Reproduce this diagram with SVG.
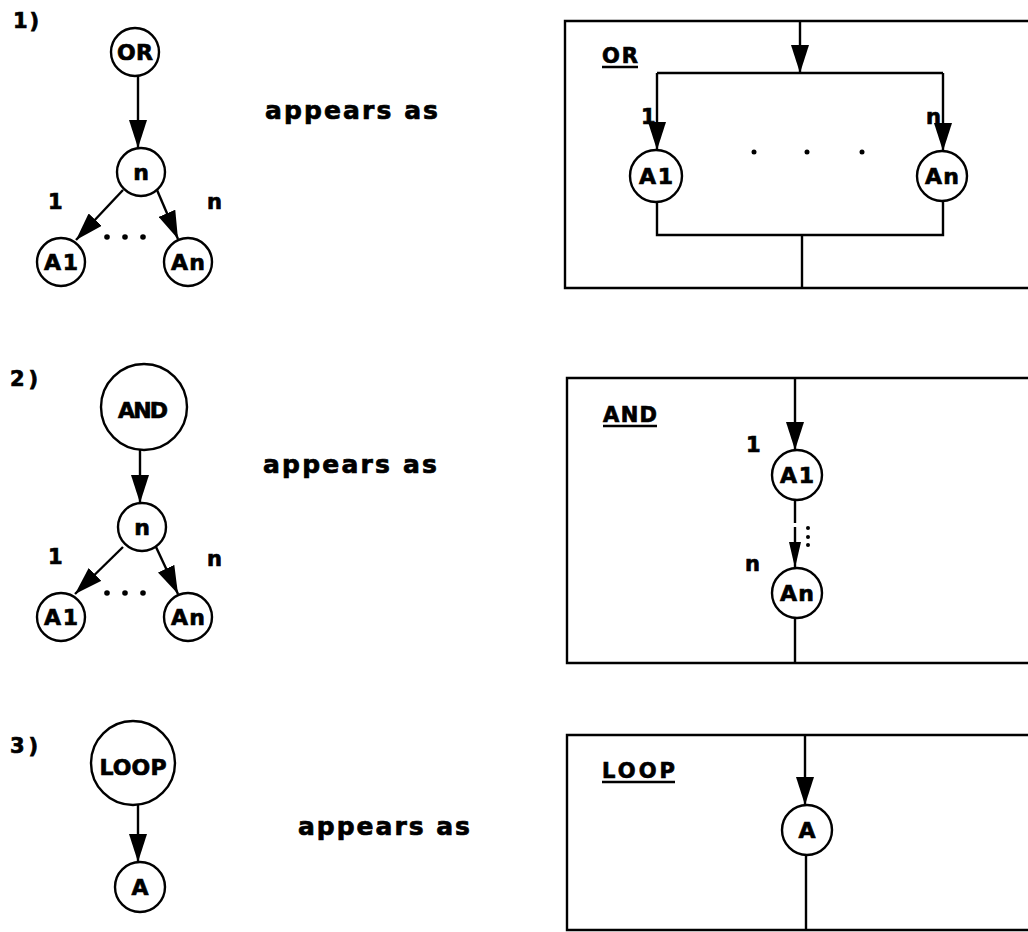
<svg xmlns="http://www.w3.org/2000/svg" width="1028" height="932" viewBox="0 0 1028 932">
<style>
text{font-family:"DejaVu Sans","Liberation Sans",sans-serif;font-weight:bold;fill:#000;stroke:#000;stroke-width:0.7;}
.t{font-size:21px;}
.c{font-size:22px;text-anchor:middle;}
.ap{font-size:25px;}
.ln{fill:none;stroke:#000;stroke-width:2.4;}
.nd{fill:#fff;stroke:#000;stroke-width:2.4;}
.ar{fill:none;stroke:#000;stroke-width:2.4;marker-end:url(#ah);}
.ars{fill:none;stroke:#000;stroke-width:2.4;marker-end:url(#ahs);}
.dot{fill:#000;}
</style>
<defs>
<marker id="ah" markerUnits="userSpaceOnUse" markerWidth="28" markerHeight="18" refX="28" refY="9" orient="auto"><path d="M0,0 L28,9 L0,18 z" fill="#000"/></marker>
<marker id="ahs" markerUnits="userSpaceOnUse" markerWidth="26" markerHeight="12" refX="26" refY="6" orient="auto"><path d="M0,0 L26,6 L0,12 z" fill="#000"/></marker>
</defs>
<rect width="1028" height="932" fill="#fff"/>

<g id="labels">
<text class="t" x="13" y="28" textLength="26">1)</text>
<text class="t" x="10" y="386" textLength="28">2)</text>
<text class="t" x="10" y="753" textLength="28">3)</text>
<text class="ap" x="265" y="119" textLength="173">appears as</text>
<text class="ap" x="263" y="473" textLength="174">appears as</text>
<text class="ap" x="298" y="835" textLength="172">appears as</text>
</g>

<g id="connectors">
<line class="ar" x1="138" y1="76" x2="138" y2="148"/>
<line class="ar" x1="123" y1="190" x2="76" y2="240"/>
<line class="ar" x1="157" y1="190" x2="178" y2="239"/>
<line class="ar" x1="140" y1="450" x2="140" y2="503"/>
<line class="ar" x1="123" y1="547" x2="75" y2="594"/>
<line class="ar" x1="156" y1="547" x2="178" y2="594"/>
<line class="ar" x1="138" y1="805" x2="138" y2="862"/>
<line class="ar" x1="800" y1="21" x2="800" y2="73"/>
<line class="ln" x1="657" y1="73" x2="943" y2="73"/>
<line class="ar" x1="657" y1="73" x2="657" y2="150"/>
<line class="ar" x1="943" y1="73" x2="943" y2="151"/>
<path class="ln" d="M657,202 V235 H943 V201"/>
<line class="ln" x1="802" y1="235" x2="802" y2="288"/>
<line class="ar" x1="795" y1="378" x2="795" y2="450"/>
<line class="ln" x1="795" y1="500" x2="795" y2="523"/>
<line class="ars" x1="795" y1="527" x2="795" y2="568"/>
<line class="ln" x1="795" y1="618" x2="795" y2="663"/>
<line class="ar" x1="805" y1="735" x2="805" y2="805"/>
<line class="ln" x1="806" y1="855" x2="806" y2="930"/>
</g>

<g id="edge-labels">
<text class="t" x="48" y="209">1</text>
<text class="t" x="207" y="209">n</text>
<text class="t" x="48" y="564">1</text>
<text class="t" x="207" y="566">n</text>
<text class="t" x="641" y="124">1</text>
<text class="t" x="926" y="124">n</text>
<text class="t" x="746" y="452">1</text>
<text class="t" x="745" y="571">n</text>
</g>

<g id="ellipses">
<circle class="dot" cx="107" cy="237" r="2.8"/>
<circle class="dot" cx="125" cy="237" r="2.8"/>
<circle class="dot" cx="143" cy="237" r="2.8"/>
<circle class="dot" cx="107" cy="593" r="2.8"/>
<circle class="dot" cx="125" cy="593" r="2.8"/>
<circle class="dot" cx="143" cy="593" r="2.8"/>
<circle class="dot" cx="754" cy="152" r="2.5"/>
<circle class="dot" cx="807" cy="152" r="2.5"/>
<circle class="dot" cx="862" cy="152" r="2.5"/>
<circle class="dot" cx="808" cy="528" r="2"/>
<circle class="dot" cx="808" cy="537" r="2"/>
<circle class="dot" cx="808" cy="545" r="2"/>
</g>

<g id="box-or">
<path class="ln" d="M1040,21 H565 V288 H1040"/>
<text class="t" x="602" y="63" textLength="36">OR</text>
<line class="ln" x1="602" y1="67" x2="638" y2="67"/>
</g>
<g id="box-and">
<path class="ln" d="M1040,378 H567 V663 H1040"/>
<text class="t" x="603" y="422" textLength="54">AND</text>
<line class="ln" x1="603" y1="426" x2="657" y2="426"/>
</g>
<g id="box-loop">
<path class="ln" d="M1040,735 H567 V930 H1040"/>
<text class="t" x="602" y="778" textLength="73">LOOP</text>
<line class="ln" x1="602" y1="782" x2="675" y2="782"/>
</g>

<g id="n1-or"><circle class="nd" cx="135" cy="52" r="24"/><text class="c" x="135" y="60" textLength="36">OR</text></g>
<g id="n1-n"><circle class="nd" cx="141" cy="172" r="24"/><text class="c" x="141" y="180">n</text></g>
<g id="n1-a1"><circle class="nd" cx="61" cy="262" r="24"/><text class="c" x="61" y="270" textLength="34">A1</text></g>
<g id="n1-an"><circle class="nd" cx="188" cy="262" r="24"/><text class="c" x="188" y="270" textLength="34">An</text></g>

<g id="n2-and"><circle class="nd" cx="144" cy="407" r="43"/><text class="c" x="143" y="418" textLength="50">AND</text></g>
<g id="n2-n"><circle class="nd" cx="142" cy="527" r="24"/><text class="c" x="142" y="535">n</text></g>
<g id="n2-a1"><circle class="nd" cx="61" cy="617" r="24"/><text class="c" x="61" y="625" textLength="34">A1</text></g>
<g id="n2-an"><circle class="nd" cx="188" cy="617" r="24"/><text class="c" x="188" y="625" textLength="34">An</text></g>

<g id="n3-loop"><circle class="nd" cx="133" cy="763" r="42"/><text class="c" x="133" y="775" textLength="67">LOOP</text></g>
<g id="n3-a"><circle class="nd" cx="140" cy="887" r="25"/><text class="c" x="140" y="895">A</text></g>

<g id="b1-a1"><circle class="nd" cx="656" cy="176" r="26"/><text class="c" x="656" y="184" textLength="34">A1</text></g>
<g id="b1-an"><circle class="nd" cx="942" cy="176" r="25"/><text class="c" x="942" y="184" textLength="34">An</text></g>
<g id="b2-a1"><circle class="nd" cx="797" cy="475" r="25"/><text class="c" x="797" y="483" textLength="34">A1</text></g>
<g id="b2-an"><circle class="nd" cx="797" cy="593" r="25"/><text class="c" x="797" y="601" textLength="34">An</text></g>
<g id="b3-a"><circle class="nd" cx="807" cy="830" r="25"/><text class="c" x="807" y="838">A</text></g>
</svg>
